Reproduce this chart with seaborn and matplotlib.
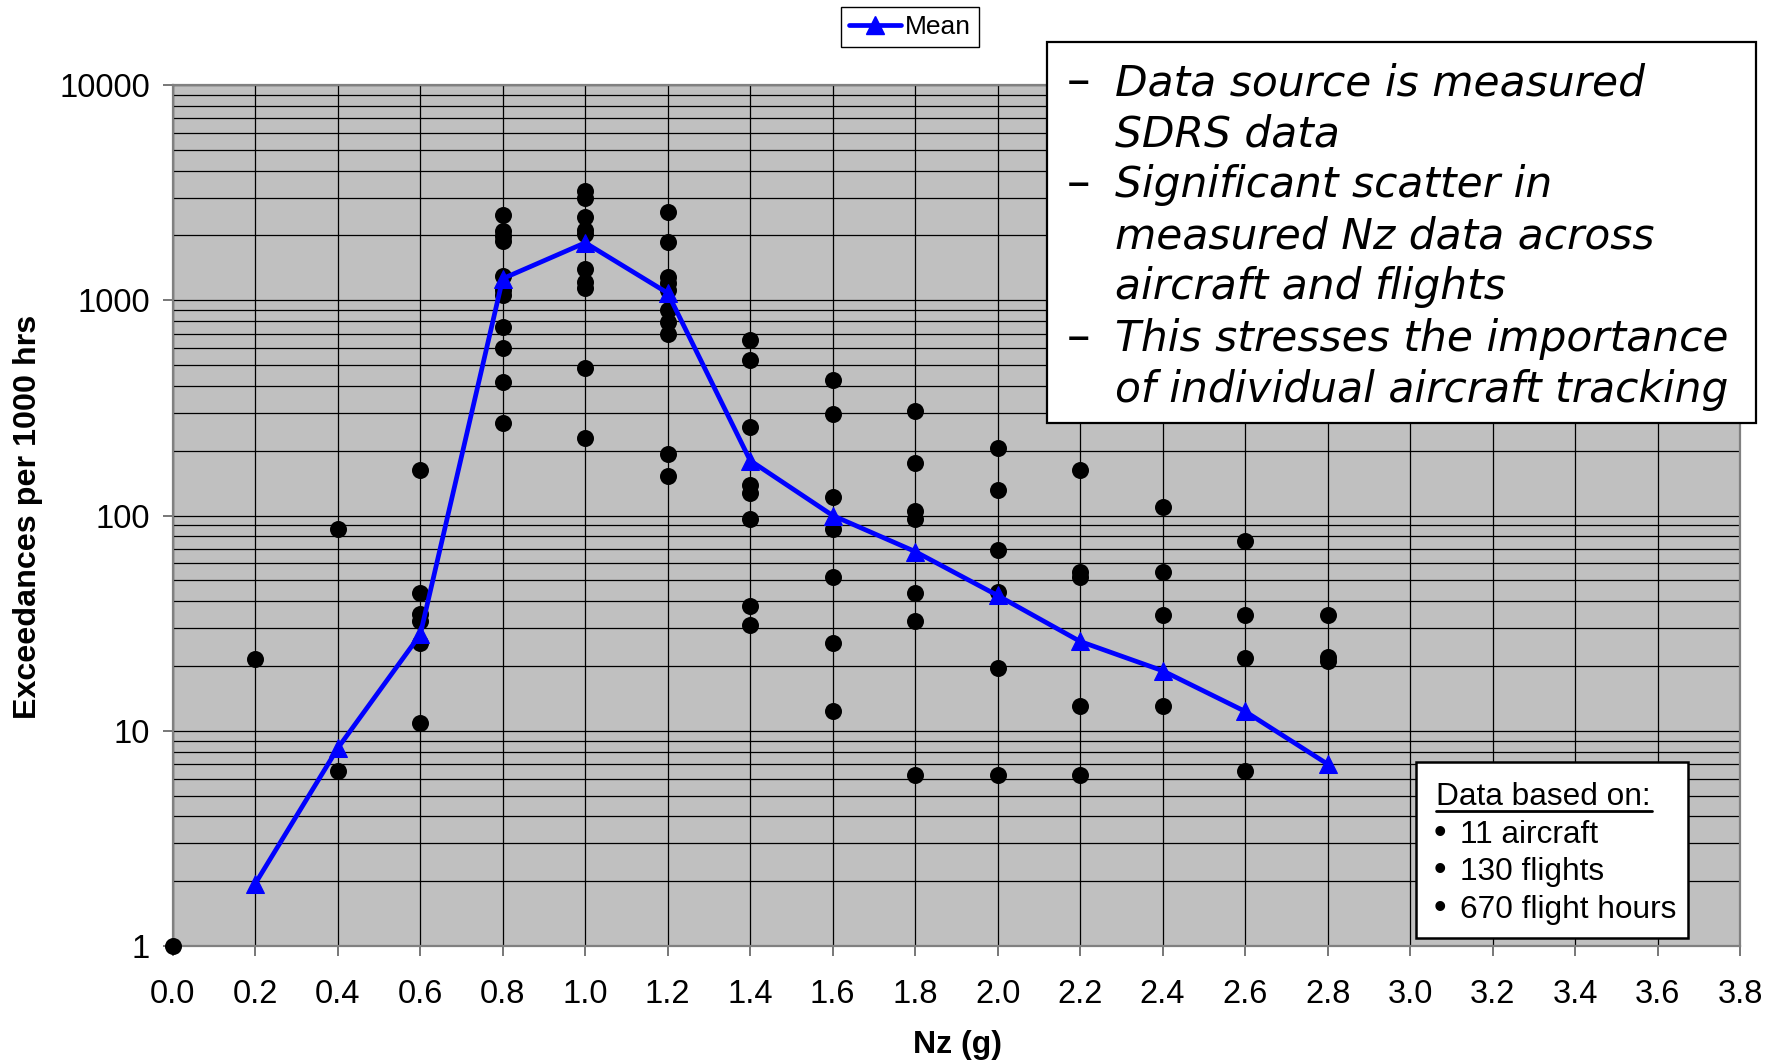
import numpy as np
import pandas as pd
import matplotlib
matplotlib.use("Agg")
import matplotlib.pyplot as plt
from matplotlib.patches import Rectangle
from matplotlib.lines import Line2D
from matplotlib.ticker import FixedLocator, LogLocator, NullFormatter
import seaborn as sns

# ---------------- data ----------------
exc_00 = [1]
exc_02 = [21.5]
exc_04 = [87, 6.5]
exc_06 = [162, 43.5, 35, 32.4, 25.7, 10.9]
exc_08 = [2500, 2100, 1990, 1890, 1300, 1115, 1055, 755, 600, 418, 268]
exc_10 = [3210, 2970, 2425, 2130, 2030, 1400, 1215, 1135, 486, 229]
exc_12 = [2580, 1870, 1280, 1205, 1120, 900, 790, 700, 194, 153]
exc_14 = [655, 526, 259, 138, 127, 96, 38, 31]
exc_16 = [425, 297, 122, 87, 52, 25.7, 12.4]
exc_18 = [305, 175, 105, 96, 43.6, 32.5, 6.2]
exc_20 = [206, 131, 69, 44, 19.5, 6.2]
exc_22 = [163, 54.4, 52, 13.1, 6.2]
exc_24 = [109, 54.4, 34.5, 13.1]
exc_26 = [76, 34.5, 21.8, 6.5]
exc_28 = [34.5, 21.9, 21.2]

nz_levels = [0.0, 0.2, 0.4, 0.6, 0.8, 1.0, 1.2, 1.4, 1.6, 1.8, 2.0, 2.2, 2.4, 2.6, 2.8]
exc_by_level = [exc_00, exc_02, exc_04, exc_06, exc_08, exc_10, exc_12, exc_14,
                exc_16, exc_18, exc_20, exc_22, exc_24, exc_26, exc_28]

mean_nz = [0.2, 0.4, 0.6, 0.8, 1.0, 1.2, 1.4, 1.6, 1.8, 2.0, 2.2, 2.4, 2.6, 2.8]
mean_exc = [1.95, 8.3, 28, 1260, 1850, 1080, 180, 100, 68, 42.5, 26, 19, 12.3, 7]

x_ticks = [0.0, 0.2, 0.4, 0.6, 0.8, 1.0, 1.2, 1.4, 1.6, 1.8, 2.0, 2.2, 2.4, 2.6,
           2.8, 3.0, 3.2, 3.4, 3.6, 3.8]
x_tick_labels = ["0.0", "0.2", "0.4", "0.6", "0.8", "1.0", "1.2", "1.4", "1.6", "1.8",
                 "2.0", "2.2", "2.4", "2.6", "2.8", "3.0", "3.2", "3.4", "3.6", "3.8"]
y_ticks = [1, 10, 100, 1000, 10000]
y_tick_labels = ["1", "10", "100", "1000", "10000"]

x_label = "Nz (g)"
y_label = "Exceedances per 1000 hrs"
legend_label = "Mean"
note_lines = [
    ("\u2013", "Data source is measured"),
    ("", "SDRS data"),
    ("\u2013", "Significant scatter in"),
    ("", "measured Nz data across"),
    ("", "aircraft and flights"),
    ("\u2013", "This stresses the importance"),
    ("", "of individual aircraft tracking"),
]
basis_title = "Data based on:"
basis_items = ["11 aircraft", "130 flights", "670 flight hours"]

# long-form table for the scatter
rows = []
for lvl, vals in zip(nz_levels, exc_by_level):
    for v in vals:
        rows.append((lvl, v))
df = pd.DataFrame(rows, columns=["Nz", "Exc"])
df_mean = pd.DataFrame({"Nz": mean_nz, "Exc": mean_exc})

# ---------------- figure ----------------
sns.set_theme(style="white")
plt.rcParams["font.family"] = ["Liberation Sans", "DejaVu Sans"]
plt.rcParams["text.color"] = "black"
plt.rcParams["axes.labelcolor"] = "black"
plt.rcParams["xtick.color"] = "black"
plt.rcParams["ytick.color"] = "black"

W, H = 1781, 1064
fig = plt.figure(figsize=(W / 100, H / 100), dpi=100)


def fx(px):
    return px / W


def fy(py):
    return 1 - py / H


L, R, T, B = 172.8, 1740, 85, 946
ax = fig.add_axes([fx(L), fy(B), (R - L) / W, (B - T) / H])
ax.set_facecolor("#C0C0C0")

sns.scatterplot(data=df, x="Nz", y="Exc", ax=ax, color="black", s=150,
                linewidth=0, legend=False, clip_on=False, zorder=3)
sns.lineplot(data=df_mean, x="Nz", y="Exc", ax=ax, color="blue", lw=3.4,
             marker="^", markersize=13, markeredgecolor="blue",
             sort=False, estimator=None, label=legend_label, zorder=4)
if ax.get_legend() is not None:
    ax.get_legend().remove()

ax.set_yscale("log")
ax.set_xlim(0, 3.8)
ax.set_ylim(1, 10000)

ax.xaxis.set_major_locator(FixedLocator(x_ticks))
ax.set_xticklabels(x_tick_labels)
ax.yaxis.set_major_locator(FixedLocator(y_ticks))
ax.set_yticklabels(y_tick_labels)
ax.yaxis.set_minor_locator(LogLocator(base=10, subs=np.arange(2, 10)))
ax.yaxis.set_minor_formatter(NullFormatter())

ax.grid(True, which="major", axis="both", color="black", lw=0.9)
ax.grid(True, which="minor", axis="y", color="black", lw=0.9)
ax.set_axisbelow(True)

ax.tick_params(axis="both", which="major", direction="out", length=7.5, width=1.2,
               color="#606060", labelsize=23.5, labelcolor="black")
ax.tick_params(axis="y", which="major", pad=9, left=True)
ax.tick_params(axis="x", which="major", pad=16, bottom=True)
ax.tick_params(axis="y", which="minor", length=0)

for s in ax.spines.values():
    s.set_color("#808080")
    s.set_linewidth(1.6)

ax.set_xlabel("")
ax.set_ylabel("")
fig.text(fx(958), fy(1045), x_label, ha="center", va="center",
         fontsize=23, fontweight="bold", color="black")
fig.text(fx(28), fy(517), y_label, ha="center", va="center",
         rotation=90, fontsize=23.2, fontweight="bold", color="black")

# legend at top
handle = Line2D([], [], color="blue", lw=3.4, marker="^", markersize=13,
                markeredgecolor="blue")
leg = fig.legend(handles=[handle], labels=[legend_label], loc="upper center",
                 bbox_to_anchor=(fx(910), fy(7)), frameon=True, fancybox=False,
                 fontsize=19, handlelength=2.0, handletextpad=0.15,
                 borderpad=0.3, borderaxespad=0, labelcolor="black")
leg.get_frame().set_edgecolor("black")
leg.get_frame().set_linewidth(1.0)
leg.get_frame().set_alpha(1)

# note box (upper right)
fig.patches.append(Rectangle((fx(1047), fy(423)), (1756 - 1047) / W, (423 - 42) / H,
                             transform=fig.transFigure, facecolor="white",
                             edgecolor="black", lw=1.6, zorder=5))
for i, (dash, txt) in enumerate(note_lines):
    yb = 95 + i * 51.1
    if dash:
        fig.text(fx(1067), fy(yb), dash, ha="left", va="baseline", fontsize=34,
                 family=["DejaVu Sans"], color="black", zorder=6)
    fig.text(fx(1115.5), fy(yb), txt, ha="left", va="baseline", fontsize=30.5,
             family=["DejaVu Sans"], style="italic", color="black", zorder=6)

# data basis box (lower right)
fig.patches.append(Rectangle((fx(1415.7), fy(938)), (1688.3 - 1415.7) / W, (938 - 762) / H,
                             transform=fig.transFigure, facecolor="white",
                             edgecolor="black", lw=1.8, zorder=5))
fig.text(fx(1436), fy(805), basis_title, ha="left", va="baseline",
         fontsize=22.8, color="black", zorder=6)
fig.add_artist(Line2D([fx(1436), fx(1652.5)], [fy(810.5), fy(810.5)],
                      transform=fig.transFigure, color="black", lw=2.0, zorder=6))
for i, item in enumerate(basis_items):
    yb = 842.7 + i * 37.7
    fig.text(fx(1434), fy(yb), "\u2022", ha="left", va="baseline", fontsize=26,
             color="black", zorder=6)
    fig.text(fx(1460), fy(yb), item, ha="left", va="baseline", fontsize=22.8,
             color="black", zorder=6)

fig.savefig("out.png", dpi=100)
